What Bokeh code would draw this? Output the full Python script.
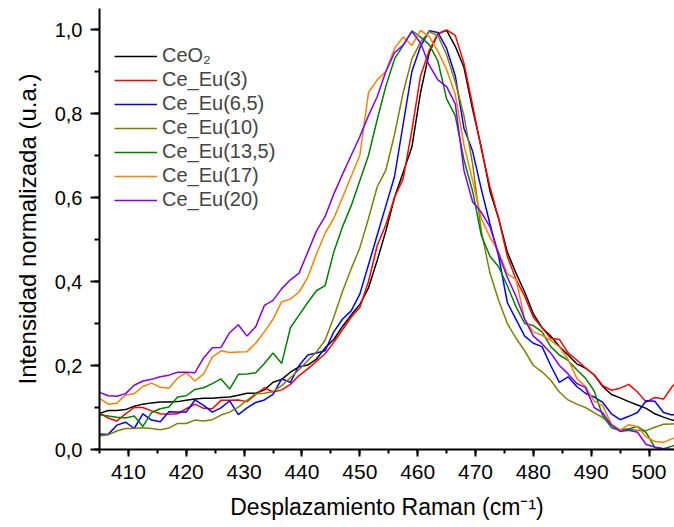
from bokeh.plotting import figure
from bokeh.models import (ColumnDataSource, Legend, LegendItem, Range1d,
                          SingleIntervalTicker, CustomJSTickFormatter)
from bokeh.embed import file_html
from bokeh.resources import INLINE

# ---------------- data ----------------
raman_shift = [405.0, 406.5, 408.0, 409.5, 411.0, 412.5, 414.0, 415.5, 417.0, 418.5,
               420.0, 421.5, 423.0, 424.5, 426.0, 427.5, 429.0, 430.5, 432.0, 433.5,
               435.0, 436.5, 438.0, 439.5, 441.0, 442.5, 444.0, 445.5, 447.0, 448.5,
               450.0, 451.5, 453.0, 454.5, 456.0, 457.5, 459.0, 460.5, 462.0, 463.5,
               465.0, 466.5, 468.0, 469.5, 471.0, 472.5, 474.0, 475.5, 477.0, 478.5,
               480.0, 481.5, 483.0, 484.5, 486.0, 487.5, 489.0, 490.5, 492.0, 493.5,
               495.0, 496.5, 498.0, 499.5, 501.0, 502.5, 504.0, 505.5]

ceo2 = [0.086, 0.093, 0.093, 0.095, 0.103, 0.108, 0.111, 0.113, 0.113, 0.114,
        0.117, 0.120, 0.122, 0.122, 0.124, 0.125, 0.129, 0.134, 0.134, 0.142,
        0.160, 0.167, 0.184, 0.197, 0.201, 0.215, 0.242, 0.262, 0.293, 0.320,
        0.345, 0.385, 0.450, 0.520, 0.600, 0.660, 0.720, 0.850, 0.945, 0.990,
        0.998, 0.960, 0.910, 0.810, 0.720, 0.615, 0.550, 0.470, 0.420, 0.375,
        0.323, 0.290, 0.270, 0.245, 0.225, 0.204, 0.194, 0.178, 0.150, 0.131,
        0.123, 0.114, 0.106, 0.098, 0.085, 0.077, 0.070, 0.065]

ce_eu_3 = [0.087, 0.075, 0.068, 0.085, 0.100, 0.100, 0.092, 0.085, 0.084, 0.085,
           0.097, 0.108, 0.098, 0.097, 0.117, 0.117, 0.118, 0.114, 0.131, 0.147,
           0.137, 0.142, 0.155, 0.176, 0.192, 0.210, 0.228, 0.255, 0.285, 0.315,
           0.338, 0.400, 0.485, 0.535, 0.600, 0.645, 0.760, 0.890, 0.950, 0.990,
           0.999, 0.986, 0.920, 0.820, 0.715, 0.625, 0.550, 0.460, 0.405, 0.365,
           0.315, 0.290, 0.265, 0.262, 0.230, 0.213, 0.194, 0.178, 0.152, 0.141,
           0.146, 0.155, 0.137, 0.113, 0.124, 0.120, 0.150, 0.170]

ce_eu_6_5 = [0.037, 0.036, 0.058, 0.065, 0.050, 0.085, 0.070, 0.066, 0.090, 0.089,
             0.089, 0.118, 0.105, 0.089, 0.099, 0.116, 0.083, 0.099, 0.112, 0.118,
             0.131, 0.168, 0.160, 0.200, 0.225, 0.230, 0.235, 0.280, 0.310, 0.330,
             0.370, 0.440, 0.510, 0.580, 0.650, 0.775, 0.900, 0.960, 0.997, 0.993,
             0.955, 0.890, 0.765, 0.710, 0.620, 0.537, 0.460, 0.350, 0.310, 0.270,
             0.253, 0.245, 0.200, 0.160, 0.173, 0.150, 0.134, 0.125, 0.112, 0.085,
             0.071, 0.079, 0.088, 0.116, 0.115, 0.088, 0.082, 0.088]

ce_eu_10 = [0.032, 0.035, 0.044, 0.050, 0.050, 0.052, 0.050, 0.047, 0.051, 0.062,
            0.062, 0.070, 0.068, 0.071, 0.082, 0.089, 0.101, 0.117, 0.133, 0.134,
            0.138, 0.152, 0.171, 0.190, 0.212, 0.232, 0.260, 0.315, 0.376, 0.430,
            0.480, 0.550, 0.625, 0.665, 0.750, 0.850, 0.930, 0.970, 0.995, 0.985,
            0.940, 0.875, 0.795, 0.680, 0.520, 0.420, 0.355, 0.300, 0.265, 0.235,
            0.200, 0.185, 0.165, 0.137, 0.118, 0.108, 0.100, 0.088, 0.076, 0.060,
            0.047, 0.049, 0.045, 0.045, 0.053, 0.060, 0.061, 0.062]

ce_eu_13_5 = [0.083, 0.080, 0.077, 0.075, 0.080, 0.055, 0.088, 0.097, 0.101, 0.125,
              0.128, 0.143, 0.147, 0.157, 0.168, 0.144, 0.179, 0.180, 0.183, 0.205,
              0.230, 0.205, 0.290, 0.320, 0.350, 0.378, 0.390, 0.470, 0.530, 0.580,
              0.640, 0.700, 0.785, 0.865, 0.930, 0.962, 0.997, 0.982, 0.964, 0.925,
              0.835, 0.795, 0.690, 0.615, 0.510, 0.460, 0.435, 0.390, 0.340, 0.300,
              0.295, 0.280, 0.245, 0.225, 0.212, 0.190, 0.170, 0.140, 0.080, 0.052,
              0.046, 0.049, 0.055, 0.040, 0.005, 0.002, 0.008, 0.015]

ce_eu_17 = [0.122, 0.108, 0.110, 0.130, 0.133, 0.150, 0.158, 0.148, 0.146, 0.170,
            0.183, 0.163, 0.180, 0.220, 0.235, 0.231, 0.232, 0.233, 0.253, 0.280,
            0.310, 0.352, 0.358, 0.375, 0.410, 0.465, 0.515, 0.550, 0.600, 0.650,
            0.700, 0.850, 0.880, 0.900, 0.955, 0.982, 0.962, 0.998, 0.983, 0.948,
            0.905, 0.845, 0.725, 0.640, 0.550, 0.505, 0.470, 0.418, 0.405, 0.310,
            0.280, 0.272, 0.260, 0.244, 0.215, 0.170, 0.150, 0.115, 0.104, 0.060,
            0.046, 0.059, 0.054, 0.030, 0.019, 0.017, 0.026, 0.028]

ce_eu_20 = [0.136, 0.128, 0.127, 0.133, 0.153, 0.163, 0.167, 0.173, 0.177, 0.184,
            0.184, 0.183, 0.218, 0.242, 0.243, 0.278, 0.297, 0.270, 0.292, 0.343,
            0.355, 0.383, 0.404, 0.420, 0.470, 0.520, 0.555, 0.608, 0.655, 0.700,
            0.745, 0.795, 0.840, 0.900, 0.945, 0.963, 0.995, 0.968, 0.915, 0.880,
            0.864, 0.823, 0.665, 0.590, 0.565, 0.530, 0.465, 0.410, 0.365, 0.310,
            0.270, 0.252, 0.230, 0.200, 0.180, 0.157, 0.148, 0.100, 0.087, 0.058,
            0.043, 0.046, 0.041, 0.012, 0.006, 0.002, 0.000, 0.000]

series_names = ["CeO\u2082", "Ce_Eu(3)", "Ce_Eu(6,5)", "Ce_Eu(10)",
                "Ce_Eu(13,5)", "Ce_Eu(17)", "Ce_Eu(20)"]
series_keys = ["ceo2", "ce_eu_3", "ce_eu_6_5", "ce_eu_10",
               "ce_eu_13_5", "ce_eu_17", "ce_eu_20"]
series_colors = ["#000000", "#FF0000", "#0000FF", "#808000",
                 "#008000", "#FF8000", "#8000FF"]

x_title = "Desplazamiento Raman (cm\u207B\u00B9)"
y_title = "Intensidad normalizada (u.a.)"

source = ColumnDataSource(data=dict(
    x=raman_shift, ceo2=ceo2, ce_eu_3=ce_eu_3, ce_eu_6_5=ce_eu_6_5,
    ce_eu_10=ce_eu_10, ce_eu_13_5=ce_eu_13_5, ce_eu_17=ce_eu_17,
    ce_eu_20=ce_eu_20))

FONT = "Liberation Sans"

p = figure(width=674, height=527, output_backend="svg", toolbar_location=None,
           x_range=Range1d(405, 504.4), y_range=Range1d(0, 1.05),
           min_border_left=99, min_border_right=0, min_border_top=8,
           min_border_bottom=78)
p.outline_line_color = None
p.grid.visible = False
p.background_fill_color = "white"
p.border_fill_color = "white"

renderers = []
for key, col in zip(series_keys, series_colors):
    r = p.line("x", key, source=source, line_color=col, line_width=1.5)
    renderers.append(r)

# axes
p.xaxis.ticker = SingleIntervalTicker(interval=10, num_minor_ticks=2)
p.yaxis.ticker = SingleIntervalTicker(interval=0.2, num_minor_ticks=2)
p.yaxis.formatter = CustomJSTickFormatter(
    code="return tick.toFixed(1).replace('.', ',');")

for ax in (p.xaxis[0], p.yaxis[0]):
    ax.axis_line_width = 2
    ax.major_tick_line_width = 2
    ax.minor_tick_line_width = 2
    ax.major_tick_in = 0
    ax.minor_tick_in = 0
    ax.major_label_text_font = FONT
    ax.major_label_text_color = "black"
    ax.axis_label_text_font = FONT
    ax.axis_label_text_font_style = "normal"
    ax.axis_label_text_color = "black"

p.xaxis.major_tick_out = 7
p.xaxis.minor_tick_out = 4
p.xaxis.major_label_text_font_size = "21px"
p.xaxis.major_label_standoff = 8
p.xaxis.axis_label_standoff = 12
p.xaxis.axis_label_text_font_size = "23px"
p.xaxis.axis_label = x_title

p.yaxis.major_tick_out = 9
p.yaxis.minor_tick_out = 5
p.yaxis.major_label_text_font_size = "20px"
p.yaxis.major_label_standoff = 8
p.yaxis.axis_label_standoff = 11
p.yaxis.axis_label_text_font_size = "24px"
p.yaxis.axis_label = y_title

items = [LegendItem(label=n, renderers=[r]) for n, r in zip(series_names, renderers)]
legend = Legend(items=items, location=(15, 238), margin=0, padding=0,
                spacing=1, label_height=20, glyph_height=20, glyph_width=43,
                label_standoff=5, label_text_font=FONT,
                label_text_font_size="20px", border_line_color=None,
                background_fill_alpha=0)
p.add_layout(legend, "center")

open("out.html", "w").write(file_html(p, INLINE))
